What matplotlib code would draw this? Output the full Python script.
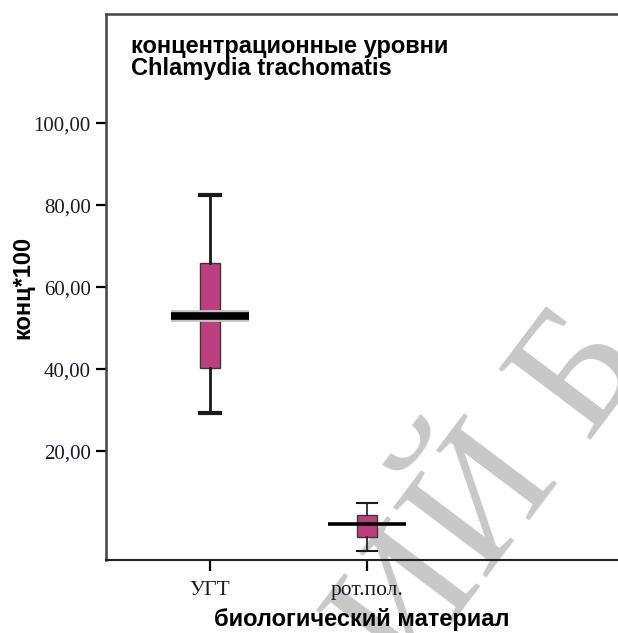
import matplotlib
matplotlib.use('Agg')
import matplotlib.pyplot as plt
import matplotlib.patheffects as pe
from matplotlib.ticker import FuncFormatter

# values (конц*100)
groups = ['УГТ', 'рот.пол.']
whislo = [29.3, -4.2]
q1 = [40.3, -0.8]
med = [53.0, 2.4]
q3 = [65.9, 4.5]
whishi = [82.6, 7.4]
yticks = [20, 40, 60, 80, 100]

box_color = '#BE3F7D'

fig = plt.figure(figsize=(6.18, 6.33), dpi=100)
ax = fig.add_axes([0.1715, 0.1153, 0.8285, 0.8626])
ax.patch.set_visible(False)

# watermark behind the chart
fig.text(0.80, 0.215, 'ИЙ Б', rotation=53, fontsize=128, color='#c8c8c8',
         family='Liberation Serif', ha='center', va='center', zorder=-5)

positions = list(range(1, len(groups) + 1))
stats = []
for i in range(len(groups)):
    stats.append({'med': med[i], 'q1': q1[i], 'q3': q3[i],
                  'whislo': whislo[i], 'whishi': whishi[i], 'fliers': []})

bp = ax.bxp(stats, positions=positions, widths=0.13, capwidths=0.13,
            patch_artist=True, showfliers=False,
            boxprops=dict(facecolor=box_color, edgecolor='#3a3a3a', linewidth=1.0),
            whiskerprops=dict(color='#1a1a1a'),
            capprops=dict(color='#1a1a1a'),
            medianprops=dict(visible=False))

# first box drawn heavier than the second, as in the original
lw_whisk = [2.0, 1.2]
lw_cap = [3.0, 1.5]
for i in range(len(groups)):
    for w in bp['whiskers'][2 * i:2 * i + 2]:
        w.set_linewidth(lw_whisk[i])
    for c in bp['caps'][2 * i:2 * i + 2]:
        c.set_linewidth(lw_cap[i])

# wide median bars
lw_med = [5.5, 2.6]
for i, p in enumerate(positions):
    effects = [pe.withStroke(linewidth=lw_med[i] + 3, foreground='#c4c4c4')] if i == 0 else []
    ax.hlines(med[i], p - 0.25, p + 0.25, colors='black', linewidth=lw_med[i],
              zorder=4, path_effects=effects)

ax.set_xlim(0.338, 3.6)
ax.set_ylim(-6.5, 126.7)
ax.set_xticks(positions)
ax.set_xticklabels(groups, family='Liberation Serif', fontsize=15.5, color='#1a1a2a')
ax.set_yticks(yticks)
ax.yaxis.set_major_formatter(FuncFormatter(lambda v, _: f'{v:.2f}'.replace('.', ',')))
for lab in ax.get_yticklabels():
    lab.set_family('Liberation Serif')
    lab.set_fontsize(15)
    lab.set_color('#1a1a2a')

ax.tick_params(axis='y', length=7, width=1.6, pad=4)
ax.tick_params(axis='x', length=8, width=1.6, pad=7)
ax.spines['right'].set_visible(False)
for s in ['left', 'top']:
    ax.spines[s].set_linewidth(1.8)
    ax.spines[s].set_color('#444444')
ax.spines['bottom'].set_linewidth(1.5)
ax.spines['bottom'].set_color('#222222')

ax.set_ylabel('конц*100', family='Liberation Sans', fontweight='bold', fontsize=17)
ax.yaxis.set_label_coords(-0.14, 0.5)
ax.set_xlabel('биологический материал', family='Liberation Sans', fontweight='bold',
              fontsize=17, labelpad=6)

ax.text(0.048, 0.962, 'концентрационные уровни\nChlamydia trachomatis',
        transform=ax.transAxes, ha='left', va='top', family='Liberation Sans',
        fontweight='bold', fontsize=17, linespacing=0.95)

fig.savefig('out.png', dpi=100)
